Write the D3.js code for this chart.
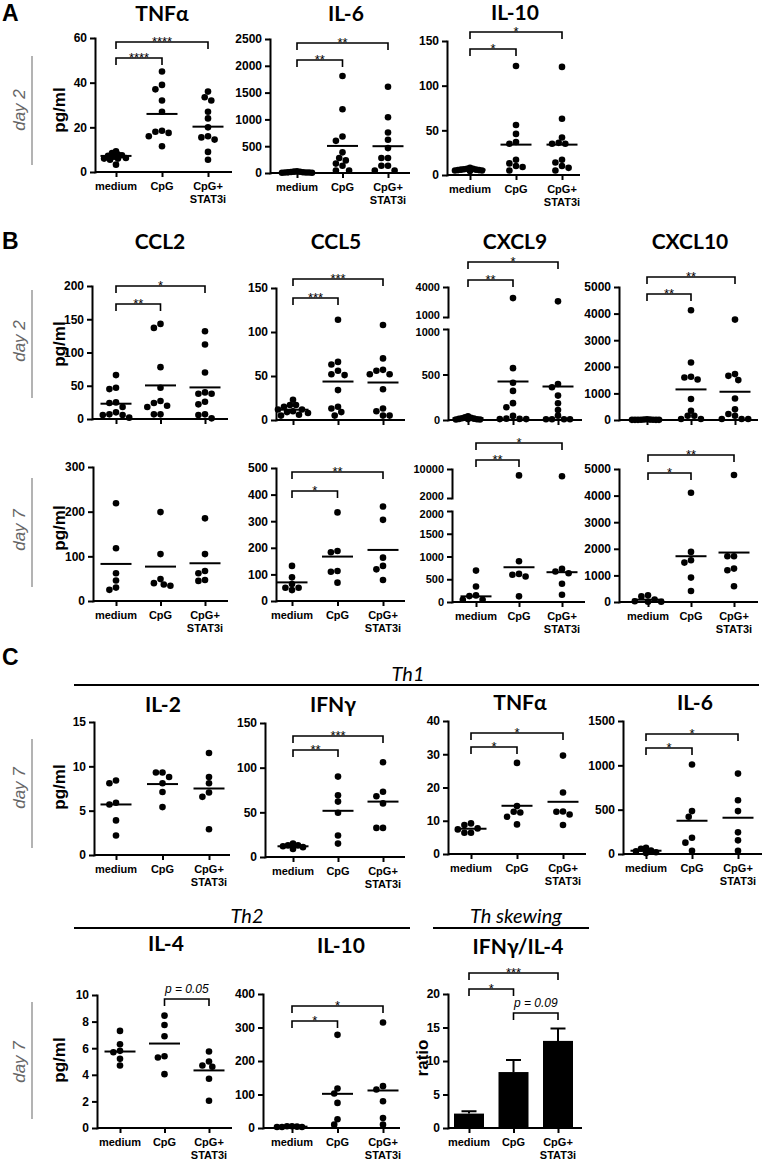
<!DOCTYPE html>
<html><head><meta charset="utf-8">
<script src="https://cdn.jsdelivr.net/npm/d3@7"></script>
<style>body{margin:0;background:#fff}svg{display:block}</style>
</head><body>
<svg id="fig" width="772" height="1161"></svg>
<script>
// ---------- DATA ----------
const categories = ["medium", "CpG", "CpG+ STAT3i"];
const xTickLines = [["medium"], ["CpG"], ["CpG+", "STAT3i"]];

// Panel A, day 2
const A_TNFa = [[9.3,8.5,7.8,7.5,7.2,6.8,6.3,6,6,5.5,3.3],[45,39,37,32,27,18.5,18,17.5,16,11.5],[36,33.5,32,27,24,20,16,15.5,14.5,9,5.5]];
const A_TNFa_center = [7.2, 26, 20.3];
const A_IL6 = [[30,25,22,20,15,12,10,10,8,5,5],[1810,1190,680,600,385,280,235,175,135,45,45],[1610,1040,755,620,465,280,280,135,135,45,45]];
const A_IL6_center = [15, 505, 500];
const A_IL10 = [[8,7,7,6.5,6,6,5.5,5.5,5,5,4.5],[122,56,46,37,35,17,13,10,9,5],[121,63,42,36,35,35,17,14,10,8,5]];
const A_IL10_center = [6, 34, 34];

// Panel B, day 2
const B_CCL2_d2 = [[66,47,45,25,24,18,10,7,6,6,2],[143,137,78,47,27,24,20,18,7,7],[132,112,70,40,38,38,26,22,7,6,1]];
const B_CCL2_d2_center = [23, 50.5, 47.5];
const B_CCL5_d2 = [[23,17,17,15,12,12,10,9,8,6,5],[114,66,63,56,52,51,34,15,13,9,5],[108,70,57,56,52,52,35,13,10,5,5]];
const B_CCL5_d2_center = [11.7, 43.7, 42.6];
const B_CXCL9_d2 = [[40,30,25,20,15,12,10,8,5,5],[2890,570,410,320,185,140,45,15,12,10,10],[2565,395,360,268,184,110,48,8,8,8,8]];
const B_CXCL9_d2_center = [20, 423, 368];
const B_CXCL10_d2 = [[30,20,15,10,10,5,5,5,5,5],[4125,2160,1625,1600,1525,790,350,160,160,40,40],[3775,1725,1660,1500,810,400,225,160,40,40,40]];
const B_CXCL10_d2_center = [10, 1150, 1062];

// Panel B, day 7
const B_CCL2_d7 = [[219,118,62,46,30,25],[199,105,49,40,37,34],[185,105,67,62,47,45]];
const B_CCL2_d7_center = [83, 77, 84.5];
const B_CCL5_d7 = [[132,89,64,50,50,41],[333,188,183,113,110,69],[355,305,163,132,119,79]];
const B_CCL5_d7_center = [70, 167, 192];
const B_CXCL9_d7 = [[690,340,145,130,50,50],[8240,895,618,600,560,124],[7980,727,669,633,400,160]];
const B_CXCL9_d7_center = [124, 764, 655];
const B_CXCL10_d7 = [[250,210,90,30,10,10],[4108,1884,1570,1482,917,415],[4774,1721,1721,1256,1193,590]];
const B_CXCL10_d7_center = [88, 1721, 1859];

// Panel C, day 7
const C_IL2 = [[8.4,8.1,5.9,5.7,3.9,2.2],[9.3,9.3,8.8,8.1,7.1,5.4],[11.5,8.8,8.1,7.05,6.56,2.9]];
const C_IL2_center = [5.7, 8.0, 7.5];
const C_IFNg = [[15,13,13,12,11,9],[90,69,62,49.5,24,15],[106,73,68,60,32.6,32.6]];
const C_IFNg_center = [12, 51.7, 62];
const C_TNFa = [[9.2,8.7,7.7,7.4,6.4,6.4],[27.4,14.4,12.7,12.5,11.2,8.9],[29.6,18.5,12.8,12.7,11.9,8.7]];
const C_TNFa_center = [7.6, 14.5, 15.7];
const C_IL6 = [[70,60,40,30,20,10],[1009,484,420,184,128,37],[907,607,484,244,154,37]];
const C_IL6_center = [37, 375, 409];
const C_IL4 = [[7.3,6.3,5.8,5.7,5.2,4.7],[8.45,7.75,6.9,5.4,5.3,4.05],[5.75,5.0,4.7,4.6,3.7,2.05]];
const C_IL4_center = [5.75, 6.35, 4.33];
const C_IL10 = [[5,5,4,3,3,3],[278,118,103,75,26,10],[315,125,115,80,30,10]];
const C_IL10_center = [4, 102, 112];
const C_ratio_mean = [2.15, 8.35, 13.0];
const C_ratio_upper = [2.5, 10.15, 14.85];

// tick values
const ticks60 = [0,20,40,60], ticks2500 = [0,500,1000,1500,2000,2500], ticks150 = [0,50,100,150];
const ticks200 = [0,50,100,150,200], ticks5000 = [0,1000,2000,3000,4000,5000];
const ticks300 = [0,100,200,300], ticks500 = [0,100,200,300,400,500];
const ticks15 = [0,5,10,15], ticks40 = [0,10,20,30,40], ticks1500 = [0,500,1000,1500];
const ticks10 = [0,2,4,6,8,10], ticks400 = [0,100,200,300,400], ticks20 = [0,5,10,15,20];
const cx9d2_lo = [0,500,1000], cx9d2_hi = [1000,4000];
const cx9d7_lo = [0,500,1000,1500,2000], cx9d7_hi = [2000,10000];

// significance: [groupA, groupB, label]
const sig4 = [[0,1,"****"],[0,2,"****"]];
const sig2_2 = [[0,1,"**"],[0,2,"**"]];
const sig1_1 = [[0,1,"*"],[0,2,"*"]];
const sig2_1 = [[0,1,"**"],[0,2,"*"]];
const sig3_3 = [[0,1,"***"],[0,2,"***"]];
const sig1_2 = [[0,1,"*"],[0,2,"**"]];
const sig2_3 = [[0,1,"**"],[0,2,"***"]];
const sigIL4 = [[1,2,"p = 0.05"]];
const sigRatio = [[0,1,"*"],[0,2,"***"],[1,2,"p = 0.09"]];

// ---------- LAYOUT ----------
const panels = [
 {data:A_TNFa, center:A_TNFa_center, title:"TNFα", tx:162, ty:21, ax:95, top:38, bot:172, right:232, c0:116, c2:208, max:60, ticks:ticks60, xl:true, sig:sig4, by:[58,42]},
 {data:A_IL6, center:A_IL6_center, title:"IL-6", tx:346, ty:21, ax:270, top:39, bot:173, right:410, c0:297, c2:388, max:2500, ticks:ticks2500, xl:true, sig:sig2_2, by:[60,43]},
 {data:A_IL10, center:A_IL10_center, title:"IL-10", tx:515, ty:20, ax:447, top:41, bot:175, right:580, c0:470, c2:562, max:150, ticks:ticks150, xl:true, sig:sig1_1, by:[49,32]},

 {data:B_CCL2_d2, center:B_CCL2_d2_center, title:"CCL2", tx:160, ty:249, ax:92, top:286, bot:419, right:228, c0:116, c2:205, max:200, ticks:ticks200, xl:false, sig:sig2_1, by:[304,286]},
 {data:B_CCL5_d2, center:B_CCL5_d2_center, title:"CCL5", tx:336, ty:249, ax:276, top:288, bot:420, right:405, c0:293, c2:383, max:150, ticks:ticks150, xl:false, sig:sig3_3, by:[298,279]},
 {data:B_CXCL9_d2, center:B_CXCL9_d2_center, title:"CXCL9", tx:515, ty:249, ax:448, bot:420, right:582, c0:468, c2:558, brk:1000, loTop:329, hiBot:317, top:287, max:4000, ticksLo:cx9d2_lo, ticksHi:cx9d2_hi, xl:false, sig:sig2_1, by:[280,262]},
 {data:B_CXCL10_d2, center:B_CXCL10_d2_center, title:"CXCL10", tx:690, ty:249, ax:619, top:287, bot:420, right:758, c0:647, c2:735, max:5000, ticks:ticks5000, xl:false, sig:sig2_2, by:[294,277]},

 {data:B_CCL2_d7, center:B_CCL2_d7_center, ax:93, top:467, bot:601, right:228, c0:116, c2:205, max:300, ticks:ticks300, xl:true, sig:[], by:[]},
 {data:B_CCL5_d7, center:B_CCL5_d7_center, ax:276, top:468, bot:601, right:405, c0:292, c2:383, max:500, ticks:ticks500, xl:true, sig:sig1_2, by:[491,472]},
 {data:B_CXCL9_d7, center:B_CXCL9_d7_center, ax:452, bot:602, right:585, c0:476, c2:562, brk:2000, loTop:511, hiBot:498, top:469, max:10000, ticksLo:cx9d7_lo, ticksHi:cx9d7_hi, xl:true, sig:sig2_1, by:[460,443]},
 {data:B_CXCL10_d7, center:B_CXCL10_d7_center, ax:619, top:469, bot:602, right:758, c0:648, c2:734, max:5000, ticks:ticks5000, xl:true, sig:sig1_2, by:[473,455]},

 {data:C_IL2, center:C_IL2_center, title:"IL-2", tx:163, ty:712, ax:94, top:722, bot:855, right:230, c0:116, c2:209, max:15, ticks:ticks15, xl:true, sig:[], by:[]},
 {data:C_IFNg, center:C_IFNg_center, title:"IFNγ", tx:333, ty:712, ax:265, top:723, bot:857, right:405, c0:293, c2:383, max:150, ticks:ticks150, xl:true, sig:sig2_3, by:[750,736]},
 {data:C_TNFa, center:C_TNFa_center, title:"TNFα", tx:520, ty:710, ax:448, top:721, bot:854, right:586, c0:471, c2:563, max:40, ticks:ticks40, xl:true, sig:sig1_1, by:[747,733]},
 {data:C_IL6, center:C_IL6_center, title:"IL-6", tx:695, ty:710, ax:623, top:721, bot:854, right:762, c0:646, c2:738, max:1500, ticks:ticks1500, xl:true, sig:sig1_1, by:[748,734]},

 {data:C_IL4, center:C_IL4_center, title:"IL-4", tx:166, ty:951, ax:97, top:995, bot:1128, right:232, c0:120, c2:209, max:10, ticks:ticks10, xl:true, sig:sigIL4, by:[999]},
 {data:C_IL10, center:C_IL10_center, title:"IL-10", tx:341, ty:953, ax:263, top:994, bot:1128, right:400, c0:292, c2:383, max:400, ticks:ticks400, xl:true, sig:sig1_1, by:[1021,1006]},
 {bars:C_ratio_mean, err:C_ratio_upper, title:"IFNγ/IL-4", tx:518, ty:954, ax:448, top:994, bot:1128, right:582, c0:469, c2:558, max:20, ticks:ticks20, xl:true, sig:sigRatio, by:[989,973,1013]}
];

const panelLetters = [["A",2,21],["B",2,249],["C",2,665]];
const dayLabels = [
  {t:"day 2", cy:110, y1:56, y2:165, py:110},
  {t:"day 2", cy:341, y1:290, y2:398, py:344},
  {t:"day 7", cy:530, y1:478, y2:587, py:528},
  {t:"day 7", cy:788, y1:739, y2:848, py:787},
  {t:"day 7", cy:1062, y1:1002, y2:1119, py:1060}
];
const groupHeaders = [
  {t:"Th1", x:408, y:681, x1:74, x2:759, ly:685},
  {t:"Th2", x:247, y:923, x1:74, x2:410, ly:928},
  {t:"Th skewing", x:516, y:923, x1:433, x2:589, ly:928}
];

// ---------- DRAW ----------
const svg = d3.select("#fig");
const SANS = "'Liberation Sans', Arial, sans-serif";
const TITLE = "Lato, 'Open Sans', sans-serif";
const R = 3.3;

function beeswarm(vals, yf, r) {
  const pts = vals.map(v => ({v, y: yf(v), off: 0})).sort((a, b) => a.y - b.y);
  let d = 2 * r - 0.6;
  for (let iter = 0; iter < 8; iter++) {
    const step = d * 0.55;
    const placed = [];
    for (const p of pts) {
      for (let k = 0; k < 60; k++) {
        const off = (k === 0) ? 0 : (k % 2 ? -1 : 1) * Math.ceil(k / 2) * step;
        if (placed.every(q => (q.off - off) ** 2 + (q.y - p.y) ** 2 >= d * d)) { p.off = off; break; }
      }
      placed.push(p);
    }
    const m = d3.max(pts, p => Math.abs(p.off));
    if (m <= 15) break;
    d *= Math.max(0.6, 15 / m);
  }
  return pts;
}

function styleAxis(sel, fs) {
  sel.select(".domain").attr("stroke", "#000").attr("stroke-width", 2).attr("stroke-linecap", "square");
  sel.selectAll(".tick line").attr("stroke", "#000").attr("stroke-width", 2);
  sel.selectAll(".tick text").attr("fill", "#000").attr("font-family", SANS).attr("font-weight", "bold").attr("font-size", fs);
}

panels.forEach(p => {
  const g = svg.append("g");
  const x = d3.scalePoint().domain(categories).range([p.c0, p.c2]);
  let y, axes;
  if (p.brk) {
    const lo = d3.scaleLinear().domain([0, p.brk]).range([p.bot, p.loTop]);
    const hi = d3.scaleLinear().domain([p.brk, p.max]).range([p.hiBot, p.top]);
    y = v => v <= p.brk ? lo(v) : hi(v);
    axes = [[lo, p.ticksLo, 1], [hi, p.ticksHi, -1]];
  } else {
    const s = d3.scaleLinear().domain([0, p.max]).range([p.bot, p.top]);
    y = s; axes = [[s, p.ticks, 0]];
  }
  const fs = p.brk ? 11 : 12;
  axes.forEach(([s, t, nudge]) => {
    const a = g.append("g").attr("transform", `translate(${p.ax},0)`)
      .call(d3.axisLeft(s).tickValues(t).tickSize(5).tickSizeOuter(0).tickPadding(3).tickFormat(d3.format("d")))
      .call(a => styleAxis(a, fs));
    if (nudge) {
      a.selectAll(".tick text").attr("dy", (d, i) => {
        const isEdge = (nudge > 0) ? d === p.brk : d === p.brk;
        return isEdge ? (nudge > 0 ? "0.55em" : "0.12em") : "0.32em";
      });
    }
  });
  // x axis
  g.append("line").attr("x1", p.ax).attr("x2", p.right).attr("y1", p.bot).attr("y2", p.bot)
    .attr("stroke", "#000").attr("stroke-width", 2);
  const xa = g.append("g").attr("transform", `translate(0,${p.bot})`)
    .call(d3.axisBottom(x).tickSize(5).tickSizeOuter(0).tickFormat(""));
  xa.select(".domain").remove();
  xa.selectAll(".tick line").attr("stroke", "#000").attr("stroke-width", 2);
  if (p.xl) {
    categories.forEach((c, i) => {
      const t = g.append("text").attr("x", x(c)).attr("y", p.bot + 18).attr("text-anchor", "middle")
        .attr("font-family", SANS).attr("font-weight", "bold").attr("font-size", 11);
      xTickLines[i].forEach((ln, j) => t.append("tspan").attr("x", x(c)).attr("dy", j ? 13 : 0).text(ln));
    });
  }
  if (p.data) {
    p.data.forEach((vals, i) => {
      const cx = x(categories[i]);
      const pts = beeswarm(vals, y, R);
      g.selectAll(null).data(pts).enter().append("circle")
        .attr("cx", d => cx + d.off).attr("cy", d => d.y).attr("r", R).attr("fill", "#000");
      g.append("line").attr("x1", cx - 15.5).attr("x2", cx + 15.5)
        .attr("y1", y(p.center[i])).attr("y2", y(p.center[i])).attr("stroke", "#000").attr("stroke-width", 2);
    });
  }
  if (p.bars) {
    p.bars.forEach((v, i) => {
      const cx = x(categories[i]);
      g.append("line").attr("x1", cx).attr("x2", cx).attr("y1", y(v)).attr("y2", y(p.err[i])).attr("stroke", "#000").attr("stroke-width", 2);
      g.append("line").attr("x1", cx - 7.5).attr("x2", cx + 7.5).attr("y1", y(p.err[i])).attr("y2", y(p.err[i])).attr("stroke", "#000").attr("stroke-width", 2);
      g.append("rect").attr("x", cx - 15).attr("width", 30).attr("y", y(v)).attr("height", p.bot - y(v)).attr("fill", "#000");
    });
    g.append("text").attr("transform", `translate(422,1058) rotate(-90)`).attr("text-anchor", "middle").attr("dy", "0.35em")
      .attr("font-family", SANS).attr("font-weight", "bold").attr("font-size", 17).text("ratio");
  }
  // brackets
  p.sig.forEach((s, k) => {
    const xa_ = x(categories[s[0]]), xb = x(categories[s[1]]), by = p.by[k];
    const isP = s[2].startsWith("p");
    g.append("path").attr("d", `M${xa_},${by + 7}V${by}H${xb}V${by + 7}`)
      .attr("fill", "none").attr("stroke", "#000").attr("stroke-width", 1.6);
    g.append("text").attr("x", (xa_ + xb) / 2).attr("y", isP ? by - 6 : by + 4).attr("text-anchor", "middle")
      .attr("font-family", SANS).attr("font-size", isP ? 12 : 13)
      .attr("font-style", isP ? "italic" : "normal").text(s[2]);
  });
  if (p.title) {
    g.append("text").attr("x", p.tx).attr("y", p.ty).attr("text-anchor", "middle")
      .attr("font-family", TITLE).attr("font-weight", "bold").attr("font-size", 21).text(p.title);
  }
});

panelLetters.forEach(([t, x0, y0]) => {
  svg.append("text").attr("x", x0).attr("y", y0).attr("font-family", SANS).attr("font-weight", "bold")
    .attr("font-size", 23).text(t);
});

dayLabels.forEach(d => {
  svg.append("line").attr("x1", 32).attr("x2", 32).attr("y1", d.y1).attr("y2", d.y2)
    .attr("stroke", "#9a9a9a").attr("stroke-width", 1.5);
  svg.append("text").attr("transform", `translate(19,${d.cy}) rotate(-90)`).attr("text-anchor", "middle").attr("dy", "0.35em")
    .attr("font-family", SANS).attr("font-style", "italic").attr("font-size", 17).attr("fill", "#666").text(d.t);
  svg.append("text").attr("transform", `translate(59,${d.py}) rotate(-90)`).attr("text-anchor", "middle").attr("dy", "0.35em")
    .attr("font-family", SANS).attr("font-weight", "bold").attr("font-size", 17).text("pg/ml");
});

groupHeaders.forEach(h => {
  svg.append("text").attr("x", h.x).attr("y", h.y).attr("text-anchor", "middle")
    .attr("font-family", TITLE).attr("font-style", "italic").attr("font-size", 20).text(h.t);
  svg.append("line").attr("x1", h.x1).attr("x2", h.x2).attr("y1", h.ly).attr("y2", h.ly)
    .attr("stroke", "#000").attr("stroke-width", 2);
});
</script>
</body></html>
